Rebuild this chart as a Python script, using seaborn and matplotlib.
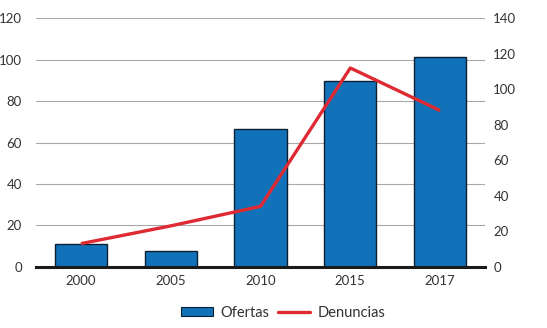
import matplotlib
matplotlib.use("Agg")
import matplotlib.pyplot as plt
import seaborn as sns
import pandas as pd
from matplotlib.patches import Patch
from matplotlib.lines import Line2D

# Data
years = ["2000", "2005", "2010", "2015", "2017"]
ofertas = [11, 7.4, 66.4, 89.6, 101.5]
denuncias = [13, 23, 34, 112, 88]

df = pd.DataFrame({"year": years, "ofertas": ofertas, "denuncias": denuncias})

sns.set_style("white")
plt.rcParams["font.family"] = ["Lato", "DejaVu Sans"]
plt.rcParams["font.size"] = 9.5

bar_color = "#1272b9"
line_color = "#de2a33"
text_color = "#333333"

fig = plt.figure(figsize=(5.47, 3.28), dpi=100)
ax = fig.add_axes([36 / 547, 1 - 266.7 / 328, 449 / 547, 248.4 / 328])

sns.barplot(data=df, x="year", y="ofertas", color=bar_color, width=0.58,
            edgecolor="#0b1f33", linewidth=1.0, saturation=1, ax=ax, zorder=2)

ax.set_ylim(0, 120)
ax.set_yticks(range(0, 121, 20))
ax.set_xlim(-0.5, 4.5)
ax.yaxis.grid(True, color="#a8a8a8", linewidth=0.8, zorder=0)
ax.set_axisbelow(True)
for s in ["top", "left", "right"]:
    ax.spines[s].set_visible(False)
ax.spines["bottom"].set_color("#1a1a1a")
ax.spines["bottom"].set_linewidth(2.2)
ax.spines["bottom"].set_zorder(5)
ax.tick_params(axis="both", length=0, colors=text_color, labelsize=9.5)
ax.tick_params(axis="x", pad=6)
ax.tick_params(axis="y", pad=10)
ax.set_xlabel("")
ax.set_ylabel("")

ax2 = ax.twinx()
sns.lineplot(data=df, x="year", y="denuncias", color=line_color, linewidth=2.4,
             ax=ax2, sort=False, solid_capstyle="butt")
ax2.set_ylim(0, 140)
ax2.set_yticks(range(0, 141, 20))
for s in ["top", "left", "right", "bottom"]:
    ax2.spines[s].set_visible(False)
ax2.tick_params(axis="y", length=0, colors=text_color, labelsize=9.5, pad=6)
ax2.set_ylabel("")
ax2.set_xlim(-0.5, 4.5)

handles = [Patch(facecolor=bar_color, edgecolor="#0b1f33", linewidth=0.8),
           Line2D([0], [0], color=line_color, linewidth=2.4)]
fig.legend(handles, ["Ofertas", "Denuncias"], loc="center",
           bbox_to_anchor=(283 / 547, 1 - 313 / 328), ncol=2, frameon=False,
           fontsize=10.5, handlelength=2.2, handleheight=0.6, columnspacing=0.6,
           handletextpad=0.5, labelcolor=text_color)

fig.savefig("out.png", dpi=100)
